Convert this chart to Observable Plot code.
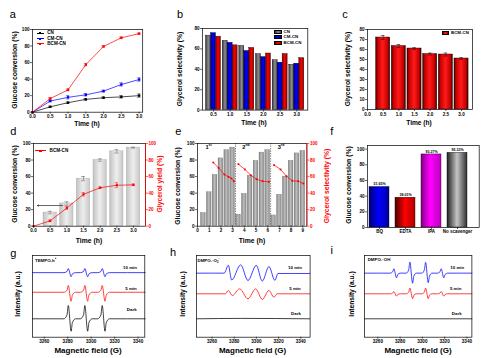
<!DOCTYPE html>
<html>
<head>
<meta charset="utf-8">
<script src="https://cdn.jsdelivr.net/npm/d3@7"></script>
<script src="https://cdn.jsdelivr.net/npm/@observablehq/plot@0.6"></script>
<style>
html,body{margin:0;padding:0;background:#fff;}
#fig{position:relative;width:493px;height:358px;overflow:hidden;background:#fff;font-family:"Liberation Sans",Arial,Helvetica,sans-serif;}
#fig svg{position:absolute;}
sup,sub{font-size:62%;line-height:0;}
</style>
</head>
<body>
<div id="fig"></div>
<script>
// ---------------- data ----------------
const times = [0, 0.5, 1.0, 1.5, 2.0, 2.5, 3.0];
const samples = ["CN", "CM-CN", "BCM-CN"];
const convCN  = [0, 6.5, 11.5, 15.5, 17.5, 18.5, 20];
const convCM  = [0, 13.5, 18, 21, 25.5, 33.5, 39.5];
const convBCM = [0, 16.5, 27, 57.5, 79.5, 90, 95];
const errCN   = [0, 0.8, 1, 1, 1, 1.5, 2];
const errCM   = [0, 1, 2, 1.5, 1.2, 2, 2];
const errBCM  = [0, 1, 1.2, 1.5, 1, 1, 0.8];

const selTimes = [0.5, 1.0, 1.5, 2.0, 2.5, 3.0];
const selCN  = [73, 68, 63, 55, 49, 44.5];
const selCM  = [75.5, 66, 58, 52, 46.5, 45.5];
const selBCM = [72, 63.5, 61, 55.5, 55, 51];
const selBCMErr = [2, 1.5, 0.8, 1, 1.5, 0.8];

const dConv = [16.5, 27.5, 57.5, 80, 90.5, 95];
const dConvErr = [1.5, 2, 2.5, 1.5, 2, 0.5];
const dYield = [0, 6.5, 22, 38.5, 46.5, 49.5, 50];
const dYieldErr = [0, 1, 2, 2, 1, 3, 1];
const dArrow = [{x1: 0.87, x2: 0.12, y: 25}];

const cycRuns = ["1st", "2nd", "3rd"];
const cycTimes = [[0.5, 1, 1.5, 2, 2.5, 3], [3.5, 4, 4.5, 5, 5.5, 6], [6.5, 7, 7.5, 8, 8.5, 9]];
const cycConv = [[16, 41, 62, 82, 92, 95], [14, 39, 61, 79, 89, 92], [13, 38, 60, 79, 88, 91]];
const cycSelTimes = [[1.35, 1.8, 2.3, 2.65, 2.9, 3.1], [3.5, 4.05, 4.55, 5.05, 5.55, 6.1], [6.55, 7.1, 7.6, 8.1, 8.6, 9.05]];
const cycSel = [[77, 70.5, 62.5, 59.7, 57.7, 54.4], [75, 68.6, 61.7, 56.8, 54.4, 53.7], [73.8, 68.6, 60.5, 54.9, 54.4, 51.6]];
const cycBreaks = [3.25, 6.25];

const scavengers = ["BQ", "EDTA", "IPA", "No scavenger"];
const scavConv = [51.65, 38.01, 93.27, 95.33];
const scavLabels = ["51.65%", "38.01%", "93.27%", "95.33%"];

const eprNames = ["10 min", "5 min", "Dark"];
const fieldTicks = [3260, 3280, 3300, 3320, 3340];
// g: TEMPO-h+
const gField = [3250, 3276.7, 3279.4, 3280.5, 3282.9, 3284.0, 3286.7, 3290.8, 3293.5, 3294.6, 3297.0, 3298.1, 3300.8, 3305.6, 3308.3, 3309.4, 3311.8, 3312.9, 3315.6, 3346];
const g10   = [79, 79, 80.5, 84, 74, 77.5, 79, 79, 80.5, 84, 74, 77.5, 79, 79, 80.5, 84, 74, 77.5, 79, 79];
const g5    = [55, 55, 57.5, 63.3, 44, 51.7, 55, 55, 57.5, 63.3, 44, 51.7, 55, 55, 57.5, 63.3, 44, 51.7, 55, 55];
const gDark = [22.5, 22.5, 27.3, 38.8, 7.3, 18, 22.5, 22.5, 27.3, 38.8, 7.3, 18, 22.5, 22.5, 27.3, 38.8, 7.3, 18, 22.5, 22.5];
// h: DMPO-O2-
const hField10 = [3246, 3271, 3274.7, 3277.7, 3285.8, 3292.4, 3299.9, 3305.3, 3311.3, 3316.7, 3319.4, 3348];
const h10      = [78.4, 78.4, 88, 70, 88.6, 69.4, 88, 68.6, 86.5, 69.5, 78, 78];
const hField5  = [3246, 3272, 3274.7, 3278.3, 3284.9, 3292.4, 3299.3, 3305.3, 3311.3, 3315.8, 3318.8, 3348];
const h5       = [53.1, 53.1, 57.2, 51, 59.2, 47, 59.2, 46.2, 57.2, 49, 53.1, 53.1];
const hFieldDark = [3246, 3286, 3348];
const hDark      = [22.5, 23, 22.5];
// i: DMPO-OH
const iField = [3248, 3271.1, 3273.3, 3274.4, 3276.8, 3277.9, 3280.1, 3285.5, 3287.7, 3288.8, 3291.2, 3292.3, 3294.5, 3299.6, 3301.8, 3302.9, 3305.3, 3306.4, 3308.6, 3313.6, 3315.8, 3316.9, 3319.3, 3320.4, 3322.6, 3344.5];
const i10 = [78.4, 78.4, 80, 83.7, 72.7, 76.7, 78.4, 78.4, 82.4, 91.8, 66.1, 74.7, 78.4, 78.4, 82.4, 91.6, 66.7, 74.7, 78.4, 78.4, 80, 83.7, 72.7, 76.7, 78.4, 78.4];
const i5  = [53.1, 53.1, 54, 55.9, 50.2, 52.2, 53.1, 53.1, 55.2, 60.1, 47.1, 51.3, 53.1, 53.1, 55.2, 60.1, 47.1, 51.3, 53.1, 53.1, 54, 55.9, 50.2, 52.2, 53.1, 53.1];
const iFieldDark = [3248, 3344.5];
const iDark = [22.5, 22.5];

// ---------------- helpers ----------------
const FONT = '"Liberation Sans", Arial, Helvetica, sans-serif';
const fig = document.getElementById("fig");
const M = {l: 24, r: 24, t: 8, b: 14};

function panel(box, {x, y, color, marks, defs}) {
  const [fl, ft, fr, fb] = box;
  const svg = Plot.plot({
    width: fr - fl + M.l + M.r,
    height: fb - ft + M.t + M.b,
    marginLeft: M.l, marginRight: M.r, marginTop: M.t, marginBottom: M.b,
    style: {fontFamily: FONT, fontSize: "4.6px", fontWeight: "bold", background: "none", overflow: "visible", color: "#000"},
    x, y, color,
    marks
  });
  if (defs) svg.insertAdjacentHTML("afterbegin", `<defs>${defs}</defs>`);
  svg.style.left = (fl - M.l) + "px";
  svg.style.top = (ft - M.t) + "px";
  fig.appendChild(svg);
  return svg;
}
function grad(id, stops) {
  return `<linearGradient id="${id}" x1="0" x2="1" y1="0" y2="0">${stops.map(([o, c]) => `<stop offset="${o}" stop-color="${c}"/>`).join("")}</linearGradient>`;
}
function cssGrad(stops) {
  return `linear-gradient(to right, ${stops.map(([o, c]) => `${c} ${o * 100}%`).join(", ")})`;
}
function txt(html, x, y, o = {}) {
  const {size = 6.8, weight = "bold", color = "#000", rot = false, anchor = "middle"} = o;
  const d = document.createElement("div");
  d.innerHTML = html;
  const tx = anchor === "start" ? "0" : anchor === "end" ? "-100%" : "-50%";
  d.style.cssText = `position:absolute;left:${x}px;top:${y}px;font-size:${size}px;font-weight:${weight};color:${color};white-space:nowrap;line-height:1;font-family:${FONT};transform:translate(${tx},-50%)${rot ? " rotate(-90deg)" : ""};`;
  fig.appendChild(d);
}
function box(x, y, w, h, bg, extra = "") {
  const d = document.createElement("div");
  d.style.cssText = `position:absolute;left:${x}px;top:${y}px;width:${w}px;height:${h}px;background:${bg};${extra}`;
  fig.appendChild(d);
}
function legendLine(x, y, len, color, label) {
  box(x, y - 0.35, len, 0.7, color);
  box(x + len / 2 - 1.1, y - 1.1, 2.2, 2.2, color);
  txt(label, x + len + 3.3, y, {size: 4.6, anchor: "start"});
}
function legendSwatch(x, y, w, h, bg, label) {
  box(x, y - h / 2, w, h, bg, "border:0.5px solid #000;box-sizing:border-box;");
  txt(label, x + w + 2, y, {size: 4.4, anchor: "start"});
}
function errorBars(data, {stroke = "#000", cap = 0.05} = {}) {
  return [
    Plot.ruleX(data, {x: "t", y1: d => d.v - d.e, y2: d => d.v + d.e, stroke, strokeWidth: 0.5}),
    Plot.ruleY(data, {y: d => d.v + d.e, x1: d => d.t - cap, x2: d => d.t + cap, stroke, strokeWidth: 0.5}),
    Plot.ruleY(data, {y: d => d.v - d.e, x1: d => d.t - cap, x2: d => d.t + cap, stroke, strokeWidth: 0.5})
  ];
}
const frame = () => Plot.frame({stroke: "#000", strokeWidth: 0.7});
const ax = (o = {}) => Plot.axisX({tickSize: 2, tickPadding: 0.8, label: null, strokeWidth: 0.6, ...o});
const ay = (o = {}) => Plot.axisY({tickSize: 2, tickPadding: 1, label: null, strokeWidth: 0.6, ...o});
const f1 = d3.format(".1f");
const y100 = [0, 20, 40, 60, 80, 100];
const RED = "#ff0000", BLUE = "#0000ff";

const stGray = [[0, "#353535"], [0.55, "#8e8e8e"], [1, "#454545"]];
const stBlue = [[0, "#00007a"], [0.5, "#0000ff"], [1, "#00009a"]];
const stRed  = [[0, "#7a0000"], [0.5, "#ff0000"], [1, "#8a0000"]];
const stRedC = [[0, "#3a0000"], [0.15, "#c80000"], [0.5, "#ff1a1a"], [0.85, "#c80000"], [1, "#3a0000"]];

// ---------------- a ----------------
const aSeries = [convCN, convCM, convBCM], aErr = [errCN, errCM, errBCM];
const aData = samples.flatMap((s, k) => times.map((t, i) => ({s, t, v: aSeries[k][i], e: aErr[k][i]})));
panel([32.3, 29, 142.5, 111.7], {
  x: {domain: [0, 3.1]}, y: {domain: [0, 100]},
  color: {domain: samples, range: ["#000000", BLUE, RED]},
  marks: [
    ...errorBars(aData.filter(d => d.e > 0), {stroke: "s", cap: 0.05}),
    Plot.line(aData, {x: "t", y: "v", z: "s", stroke: "s", strokeWidth: 0.7}),
    Plot.dot(aData, {x: "t", y: "v", fill: "s", symbol: "square", r: 1.3}),
    frame(), ax({ticks: times, tickFormat: f1}), ay({ticks: y100})
  ]
});
legendLine(36.7, 33.3, 7.3, "#000", samples[0]);
legendLine(36.7, 38.6, 7.3, BLUE, samples[1]);
legendLine(36.7, 43.7, 7.3, RED, samples[2]);
txt("Glucose conversion (%)", 15, 70, {rot: true});
txt("Time (h)", 87, 123.5, {size: 6.6});

// ---------------- b ----------------
const bSeries = [selCN, selCM, selBCM];
const bFill = [stGray, stBlue, stRed];
panel([201.7, 27.7, 307, 109.3], {
  x: {domain: [0.17, 3.33]}, y: {domain: [0, 80]},
  marks: [
    ...samples.map((s, k) => Plot.rectY(selTimes.map((t, i) => ({t, v: bSeries[k][i]})), {
      x1: d => d.t + (k - 1) * 0.15 - 0.075, x2: d => d.t + (k - 1) * 0.15 + 0.075,
      y1: 0, y2: "v", fill: `url(#bG${k})`, stroke: "#000", strokeWidth: 0.35})),
    frame(), ax({ticks: selTimes, tickFormat: f1}), ay({ticks: [0, 20, 40, 60, 80]})
  ],
  defs: bFill.map((st, k) => grad(`bG${k}`, st)).join("")
});
samples.forEach((s, k) => legendSwatch(274.3, [31.7, 37.2, 42.7][k], 7.3, 4, cssGrad(bFill[k]), s));
txt("Glycerol selectivity (%)", 180, 68.5, {rot: true});
txt("Time (h)", 254, 123, {size: 6.6});

// ---------------- c ----------------
const cData = selTimes.map((t, i) => ({t, v: selBCM[i], e: selBCMErr[i]}));
panel([366.7, 29, 471.7, 109], {
  x: {domain: [0, 3.35]}, y: {domain: [0, 80]},
  marks: [
    Plot.rectY(cData, {x1: d => d.t - 0.225, x2: d => d.t + 0.225, y1: 0, y2: "v", fill: "url(#cG)", stroke: "#000", strokeWidth: 0.4}),
    ...errorBars(cData, {cap: 0.06}),
    frame(), ax({ticks: times, tickFormat: f1}), ay({ticks: [0, 10, 20, 30, 40, 50, 60, 70, 80]})
  ],
  defs: grad("cG", stRedC)
});
legendSwatch(441.7, 33.3, 7.3, 4, cssGrad(stRedC), samples[2]);
txt("Glycerol selectivity (%)", 348, 69, {rot: true});
txt("Time (h)", 419, 123, {size: 6.6});

// ---------------- d ----------------
const dX = [0, 3.36];
const dBars = selTimes.map((t, i) => ({t, v: dConv[i], e: dConvErr[i]}));
const dLine = times.map((t, i) => ({t, v: dYield[i], e: dYieldErr[i]}));
panel([33, 143, 145, 225.7], {
  x: {domain: dX}, y: {domain: [0, 100]},
  marks: [
    Plot.rectY(dBars, {x1: d => d.t - 0.2, x2: d => d.t + 0.2, y1: 0, y2: "v", fill: "url(#dG)", stroke: "#a8a8a8", strokeWidth: 0.4}),
    ...errorBars(dBars, {stroke: "#555", cap: 0.06}),
    ...errorBars(dLine.filter(d => d.e > 0), {stroke: RED, cap: 0.05}),
    Plot.line(dLine, {x: "t", y: "v", stroke: RED, strokeWidth: 0.7}),
    Plot.dot(dLine, {x: "t", y: "v", fill: RED, symbol: "square", r: 1.2}),
    Plot.arrow(dArrow, {x1: "x1", x2: "x2", y1: "y", y2: "y", stroke: "#000", strokeWidth: 0.6, headLength: 3}),
    frame(),
    Plot.ruleX([dX[1]], {stroke: RED, strokeWidth: 0.8}),
    ax({ticks: times, tickFormat: f1}), ay({ticks: y100}),
    ay({anchor: "right", ticks: y100, color: RED})
  ],
  defs: grad("dG", [[0, "#c2c2c2"], [0.5, "#eeeeee"], [1, "#c8c8c8"]])
});
legendLine(34.7, 150.7, 11.6, RED, samples[2]);
txt("Glucose conversion (%)", 15, 184, {rot: true});
txt("Glycerol yield (%)", 160, 184, {rot: true, color: RED});
txt("Time (h)", 89, 241.3);

// ---------------- e ----------------
const eX = [0, 9.35];
const eBars = cycTimes.flatMap((ts, r) => ts.map((t, i) => ({t, v: cycConv[r][i]})));
const eSel = cycSelTimes.flatMap((ts, r) => ts.map((t, i) => ({t, v: cycSel[r][i], run: cycRuns[r]})));
panel([197.3, 143, 306.7, 225.7], {
  x: {domain: eX}, y: {domain: [0, 100]},
  marks: [
    Plot.rectY(eBars, {x1: d => d.t - 0.2, x2: d => d.t + 0.2, y1: 0, y2: "v", fill: "url(#eG)", stroke: "#666", strokeWidth: 0.3}),
    Plot.ruleX(cycBreaks, {stroke: "#555", strokeWidth: 0.7, strokeDasharray: "1.5,1"}),
    Plot.line(eSel, {x: "t", y: "v", z: "run", stroke: RED, strokeWidth: 0.7}),
    Plot.dot(eSel, {x: "t", y: "v", fill: RED, symbol: "square", r: 1}),
    frame(),
    Plot.ruleX([eX[1]], {stroke: RED, strokeWidth: 0.8}),
    ax({ticks: [0, 1, 2, 3, 4, 5, 6, 7, 8, 9]}), ay({ticks: y100}),
    ay({anchor: "right", ticks: y100, color: RED})
  ],
  defs: grad("eG", [[0, "#858585"], [0.5, "#bdbdbd"], [1, "#8a8a8a"]])
});
txt("1<sup>st</sup>", 208.5, 147.5, {size: 5.6});
txt("2<sup>nd</sup>", 246, 147.5, {size: 5.6});
txt("3<sup>rd</sup>", 281, 147.5, {size: 5.6});
txt("Glucose conversion (%)", 178.3, 186, {rot: true});
txt("Glycerol selectivity (%)", 326.5, 186, {rot: true, color: RED});
txt("Time (h)", 252, 241.3);

// ---------------- f ----------------
const fStops = [stBlue, [[0, "#500000"], [0.5, "#ff0000"], [1, "#b00000"]], [[0, "#800080"], [0.45, "#ff00ff"], [1, "#c000c0"]], [[0, "#202020"], [0.5, "#c4c4c4"], [1, "#303030"]]];
const fData = scavengers.map((c, i) => ({c, v: scavConv[i], lab: scavLabels[i], g: `url(#fG${i})`}));
panel([367.3, 145, 479, 227], {
  x: {type: "band", domain: scavengers, range: [M.l + 1, M.l + 101], paddingInner: 0.25, paddingOuter: 0},
  y: {domain: [0, 104.7]},
  color: {type: "identity"},
  marks: [
    Plot.barY(fData, {x: "c", y: "v", fill: "g", stroke: "#000", strokeWidth: 0.4}),
    Plot.text(fData, {x: "c", y: "v", text: "lab", dy: -2.8, fontSize: 3.6, fontWeight: "bold"}),
    frame(), ax({fontSize: 4.5}), ay({ticks: y100})
  ],
  defs: fStops.map((st, i) => grad(`fG${i}`, st)).join("")
});
txt("Glucose conversion (%)", 349, 185, {rot: true});

// ---------------- g / h / i ----------------
function eprPanel(box, xDomain, traces) {
  const data = traces.flatMap(tr => tr.field.map((f, i) => ({f, v: tr.v[i], s: tr.name})));
  panel(box, {
    x: {domain: xDomain}, y: {domain: [0, 100], axis: null},
    color: {domain: eprNames, range: [BLUE, RED, "#000000"]},
    marks: [
      Plot.line(data, {x: "f", y: "v", z: "s", stroke: "s", strokeWidth: 0.75, curve: "monotone-x"}),
      frame(), ax({ticks: fieldTicks, tickFormat: d3.format("d")})
    ]
  });
}
eprPanel([31.7, 255, 144, 336.7], [3250, 3345.7], [
  {name: eprNames[0], field: gField, v: g10},
  {name: eprNames[1], field: gField, v: g5},
  {name: eprNames[2], field: gField, v: gDark}
]);
eprPanel([195.7, 255, 309.3, 336.7], [3246, 3348.4], [
  {name: eprNames[0], field: hField10, v: h10},
  {name: eprNames[1], field: hField5, v: h5},
  {name: eprNames[2], field: hFieldDark, v: hDark}
]);
eprPanel([364.3, 255, 471.7, 336.7], [3248, 3344.5], [
  {name: eprNames[0], field: iField, v: i10},
  {name: eprNames[1], field: iField, v: i5},
  {name: eprNames[2], field: iFieldDark, v: iDark}
]);
txt("TEMPO-h<sup>+</sup>", 35, 260.7, {size: 4.4, anchor: "start"});
txt("DMPO-·O<sub>2</sub><sup>-</sup>", 197.5, 260.7, {size: 4.4, anchor: "start"});
txt("DMPO-·OH", 367.7, 259.5, {size: 4.4, anchor: "start"});
[[130, 295, 457.3], [131, 295, 455.7], [131.7, 296, 456.7]].forEach((xs, k) => {
  const ys = [[268.3, 268.3, 268.3], [289, 289, 289], [310, 314.3, 314]][k];
  xs.forEach((x, p) => txt(eprNames[k], x, ys[p], {size: 4.4}));
});
[[18, 294], [182.7, 294], [352.3, 294]].forEach(([x, y]) => txt("Intensity (a.u.)", x, y, {rot: true, size: 6.7}));
[88, 252.5, 418].forEach(x => txt("Magnetic field (G)", x, 350.5, {size: 8}));

// ---------------- panel letters ----------------
[["a", 12.7, 13.5], ["b", 180, 13.5], ["c", 345, 14], ["d", 13.3, 131.3], ["e", 178.3, 131.3], ["f", 331.7, 131.3], ["g", 13.3, 253.3], ["h", 173, 251.7], ["i", 331.7, 250]]
  .forEach(([s, x, y]) => txt(s, x, y, {size: 11, weight: "normal"}));
</script>
</body>
</html>
